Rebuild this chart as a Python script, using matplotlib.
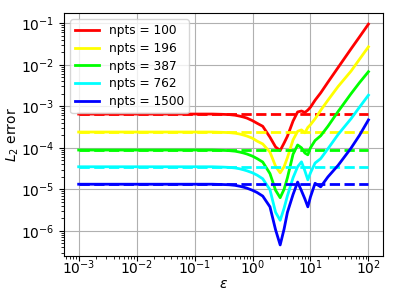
import numpy as np
import matplotlib
matplotlib.use("Agg")
import matplotlib.pyplot as plt

# shape parameter values (x axis)
eps = [1e-3, 1e-2, 0.1, 0.2, 0.3, 0.4, 0.5, 0.6, 0.7, 0.8, 1.0, 1.2, 1.5, 2.0,
       2.5, 3.0, 3.5, 4.0, 5.0, 6.0, 7.0, 8.0, 9.0, 10.0, 12.0, 15.0, 20.0,
       30.0, 50.0, 70.0, 100.0]

npts = [100, 196, 387, 762, 1500]
colors = ["red", "yellow", "lime", "cyan", "blue"]

# error level of the reference (dashed lines)
ref_err = [6.5e-4, 2.4e-4, 8.85e-5, 3.5e-5, 1.33e-5]

err_100 = [6.5e-4, 6.5e-4, 6.5e-4, 6.5e-4, 6.4e-4, 6.3e-4, 6.1e-4, 5.8e-4, 5.5e-4,
           5.2e-4, 4.5e-4, 3.9e-4, 3.3e-4, 1.8e-4, 1.05e-4, 8.6e-5, 1.3e-4,
           1.9e-4, 4.4e-4, 7.3e-4, 7.7e-4, 7.1e-4, 8.1e-4, 9.5e-4, 1.4e-3,
           2.1e-3, 3.8e-3, 8.6e-3, 2.4e-2, 4.66e-2, 9.5e-2]
err_196 = [2.4e-4, 2.4e-4, 2.4e-4, 2.4e-4, 2.36e-4, 2.32e-4, 2.25e-4, 2.15e-4,
           2.03e-4, 1.92e-4, 1.7e-4, 1.45e-4, 1.24e-4, 7.9e-5, 3.6e-5, 2.5e-5,
           3.5e-5, 5.8e-5, 1.55e-4, 2.5e-4, 2.7e-4, 2.3e-4, 3.1e-4, 3.6e-4,
           5.0e-4, 8.0e-4, 1.4e-3, 3.0e-3, 7.0e-3, 1.35e-2, 2.7e-2]
err_387 = [8.85e-5, 8.85e-5, 8.85e-5, 8.85e-5, 8.7e-5, 8.55e-5, 8.3e-5, 7.9e-5,
           7.5e-5, 7.1e-5, 6.3e-5, 5.5e-5, 4.55e-5, 2.4e-5, 9.5e-6, 6.3e-6,
           1.0e-5, 1.9e-5, 7.0e-5, 1.17e-4, 1.0e-4, 7.5e-5, 6.8e-5, 1.0e-4,
           1.5e-4, 1.95e-4, 3.3e-4, 7.5e-4, 2.0e-3, 3.7e-3, 6.8e-3]
err_762 = [3.5e-5, 3.5e-5, 3.5e-5, 3.5e-5, 3.44e-5, 3.38e-5, 3.28e-5, 3.13e-5,
           2.96e-5, 2.8e-5, 2.5e-5, 2.2e-5, 1.8e-5, 9.8e-6, 2.8e-6, 1.8e-6,
           3.5e-6, 7.0e-6, 1.9e-5, 3.5e-5, 4.6e-5, 2.8e-5, 1.7e-5, 2.5e-5,
           4.3e-5, 5.5e-5, 9.5e-5, 2.1e-4, 5.0e-4, 9.5e-4, 1.85e-3]
err_1500 = [1.33e-5, 1.33e-5, 1.33e-5, 1.33e-5, 1.31e-5, 1.29e-5, 1.25e-5, 1.19e-5,
            1.13e-5, 1.07e-5, 9.5e-6, 8.4e-6, 6.9e-6, 3.8e-6, 1.06e-6, 4.6e-7,
            1.1e-6, 2.8e-6, 7.5e-6, 1.5e-5, 9.2e-6, 5.9e-6, 3.8e-6, 6.6e-6,
            1.4e-5, 1.15e-5, 2.0e-5, 3.8e-5, 9.8e-5, 2.0e-4, 4.7e-4]

errors = [err_100, err_196, err_387, err_762, err_1500]

fig = plt.figure(figsize=(3.96, 3.04), dpi=100)
ax = fig.add_axes([0.162, 0.158, 0.805, 0.799])

for n, c, e, r in zip(npts, colors, errors, ref_err):
    ax.plot(eps, e, color=c, lw=2, label=f"npts = {n}")
    ax.plot([eps[0], eps[-1]], [r, r], color=c, lw=2, ls="--")

ax.set_xscale("log")
ax.set_yscale("log")
ax.tick_params(axis="x", which="major", pad=-1.5)
ax.set_xlabel(r"$\varepsilon$", labelpad=0)
ax.set_ylabel(r"$L_2$ error", labelpad=0)
ax.grid(True)
ax.legend(loc="upper left", fontsize=8.7, labelspacing=0.4)

fig.savefig("out.png", dpi=100)
